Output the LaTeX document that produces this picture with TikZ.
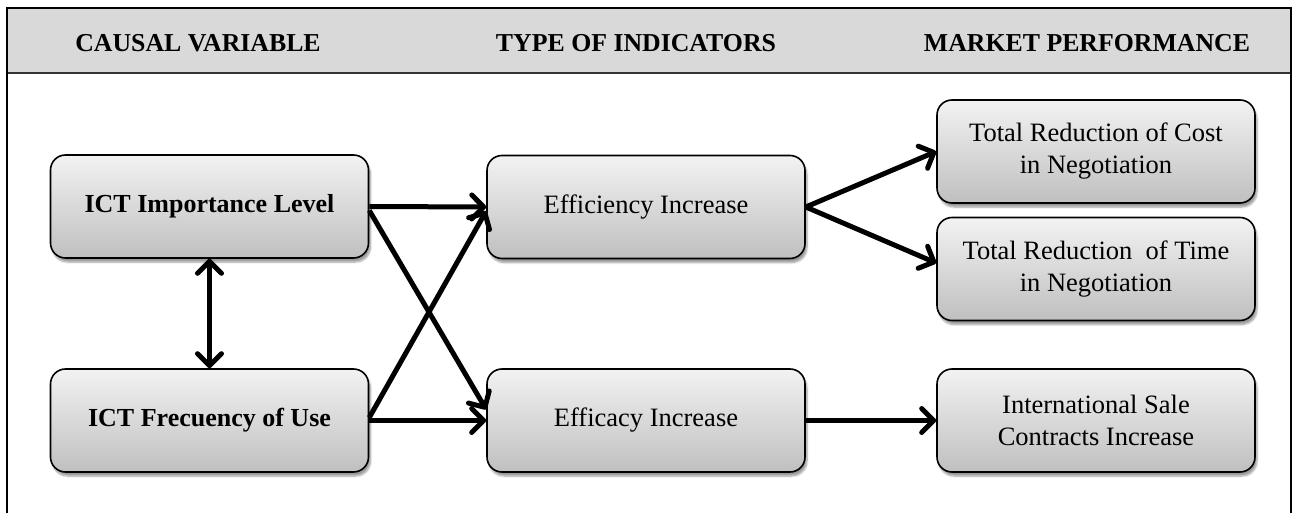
\documentclass[tikz,border=0pt]{standalone}
\usepackage{fontspec}
\setmainfont{Liberation Serif}
\usetikzlibrary{arrows.meta,shadows.blur,calc}
\begin{document}
\begin{tikzpicture}[x=1pt,y=-1pt,
  box/.style={draw=black, line width=1.6pt, rounded corners=15pt,
    top color=gray!10, bottom color=gray!50,
    minimum width=318pt, minimum height=103pt, inner sep=0pt, align=center,
    font=\fontsize{26.5}{32}\selectfont,
    blur shadow={shadow xshift=2pt, shadow yshift=-4pt, shadow blur steps=6, shadow opacity=40}},
  head/.style={font=\fontsize{25.8}{30}\selectfont\bfseries, anchor=base, inner sep=0pt},
  tip/.tip={Straight Barb[length=12pt, width=24pt, line width=5pt, round]},
  conn/.style={line width=5pt, -tip},
  conn2/.style={line width=5pt, tip-tip}
]
\useasboundingbox (0,0) rectangle (1294,513);
% header band and frame
\fill[gray!30] (7,8) rectangle (1291,73);
\draw[line width=1.8pt, black!80] (7,73) -- (1291,73);
\draw[line width=1.8pt] (7,513) -- (7,8) -- (1291,8) -- (1291,513);
\node[head] (h1) at (198,52) {CAUSAL VARIABLE};
\node[head] (h2) at (636,52) {TYPE OF INDICATORS};
\node[head] (h3) at (1087,52) {MARKET PERFORMANCE};
% boxes
\node[box, font=\fontsize{26}{31}\selectfont\bfseries] (imp) at (209.5,206.5) {ICT Importance Level};
\node[box, font=\fontsize{26}{31}\selectfont\bfseries] (frq) at (209.5,420.5) {ICT Frecuency of Use};
\node[box] (eff) at (646,207) {Efficiency Increase};
\node[box] (efc) at (646,420.5) {Efficacy Increase};
\node[box] (cost) at (1096,151.5) {Total Reduction of Cost\\in Negotiation};
\node[box] (time) at (1096,269) {Total Reduction\ \ of Time\\in Negotiation};
\node[box] (isc) at (1096,420.5) {International Sale\\Contracts Increase};
% connectors
\draw[conn] (imp.east) -- (eff.west);
\draw[conn] (frq.east) -- (efc.west);
\draw[conn] ($(imp.east)+(0,4)$) -- ($(efc.west)+(0,-11)$);
\draw[conn] ($(frq.east)+(0,-3)$) -- ($(eff.west)+(0,4)$);
\draw[conn] (eff.east) -- (cost.west);
\draw[conn] (eff.east) -- ($(time.west)+(0,-6)$);
\draw[conn] (efc.east) -- (isc.west);
\draw[conn2] (imp.south) -- (frq.north);
\end{tikzpicture}
\end{document}
